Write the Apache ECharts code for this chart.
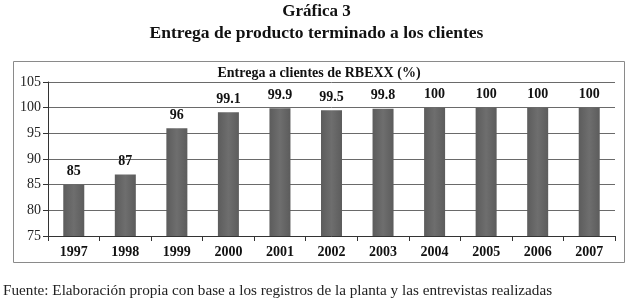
<!DOCTYPE html>
<html>
<head>
<meta charset="utf-8">
<script src="https://cdn.jsdelivr.net/npm/echarts@6/dist/echarts.min.js"></script>
<style>
    html, body { margin: 0; padding: 0; background: #fff; }
    #chart { width: 633px; height: 302px; }
</style>
</head>
<body>
<div id="chart"></div>
<script>
    const years = ['1997', '1998', '1999', '2000', '2001', '2002', '2003', '2004', '2005', '2006', '2007']
    const entrega = [85, 87, 96, 99.1, 99.9, 99.5, 99.8, 100, 100, 100, 100]
    const yTicks = [75, 80, 85, 90, 95, 100, 105]

    const serif = '"Liberation Serif", "Times New Roman", serif'
    const chart = echarts.init(document.getElementById('chart'))

    chart.setOption({
        animation: false,
        title: [
            {
                text: 'Gráfica 3',
                left: 'center',
                top: -2,
                textStyle: { fontFamily: serif, fontSize: 17, fontWeight: 'bold', color: '#111' }
            },
            {
                text: 'Entrega de producto terminado a los clientes',
                left: 'center',
                top: 19,
                textStyle: { fontFamily: serif, fontSize: 17.5, fontWeight: 'bold', color: '#111' }
            },
            {
                text: 'Entrega a clientes de RBEXX (%)',
                left: 314,
                textAlign: 'center',
                top: 61,
                textStyle: { fontFamily: serif, fontSize: 14, fontWeight: 'bold', color: '#111' }
            },
            {
                text: 'Fuente: Elaboración propia con base a los registros de la planta y las entrevistas realizadas',
                left: -2,
                top: 279,
                textStyle: { fontFamily: serif, fontSize: 15.2, fontWeight: 'normal', color: '#222' }
            }
        ],
        graphic: [
            {
                type: 'rect',
                shape: { x: 13.5, y: 61.5, width: 611, height: 201 },
                style: { fill: 'none', stroke: '#8a8a8a', lineWidth: 1 },
                silent: true
            }
        ],
        grid: { left: 48, right: 18, top: 82, bottom: 66 },
        xAxis: {
            type: 'category',
            data: years,
            axisLine: { lineStyle: { color: '#333' } },
            axisTick: { show: true, alignWithLabel: false, length: 5, lineStyle: { color: '#333' } },
            axisLabel: { fontFamily: serif, fontSize: 14, fontWeight: 'bold', color: '#111', margin: 9 }
        },
        yAxis: {
            type: 'value',
            min: yTicks[0],
            max: yTicks[yTicks.length - 1],
            interval: 5,
            axisLine: { show: true, lineStyle: { color: '#333' } },
            axisTick: { show: true, length: 5, lineStyle: { color: '#333' } },
            axisLabel: { fontFamily: serif, fontSize: 14, color: '#222', margin: 7 },
            splitLine: { lineStyle: { color: '#6a6a6a', width: 1 } }
        },
        series: [
            {
                type: 'bar',
                data: entrega,
                barWidth: 21,
                itemStyle: {
                    color: new echarts.graphic.LinearGradient(0, 0, 1, 0, [
                        { offset: 0, color: '#5c5c5c' },
                        { offset: 0.5, color: '#6e6e6e' },
                        { offset: 1, color: '#5c5c5c' }
                    ])
                },
                label: {
                    show: true,
                    position: 'top',
                    distance: 6,
                    fontFamily: serif,
                    fontSize: 14,
                    fontWeight: 'bold',
                    color: '#111'
                }
            }
        ]
    })
</script>
</body>
</html>
